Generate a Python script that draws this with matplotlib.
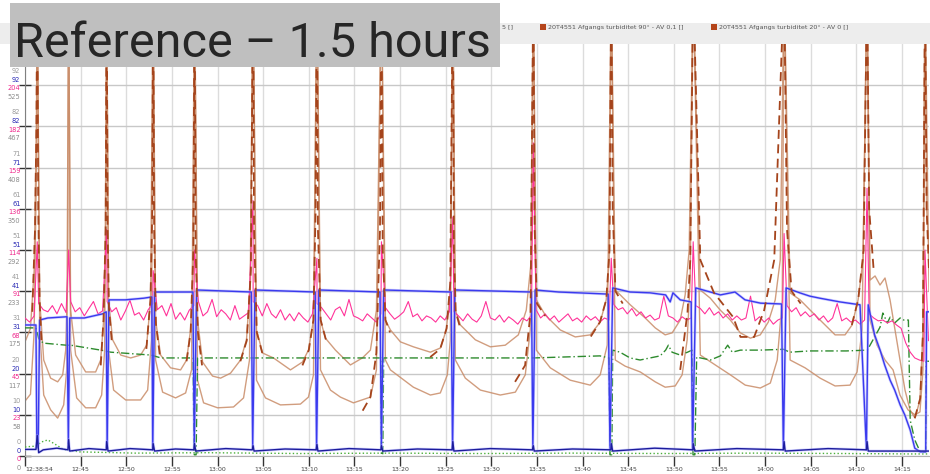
import numpy as np
import matplotlib
matplotlib.use("Agg")
import matplotlib.pyplot as plt
from matplotlib.patches import Rectangle
from matplotlib import transforms

nan = np.nan

# time axis: minutes after 12:38:54, values in % of the shared scale
tick_min = [0, 6.1, 11.1, 16.1, 21.1, 26.1, 31.1, 36.1, 41.1, 46.1, 51.1,
            56.1, 61.1, 66.1, 71.1, 76.1, 81.1, 86.1, 91.1, 96.1]
tick_lab = ["12:38:54", "12:45", "12:50", "12:55", "13:00", "13:05", "13:10",
            "13:15", "13:20", "13:25", "13:30", "13:35", "13:40", "13:45",
            "13:50", "13:55", "14:00", "14:05", "14:10", "14:15"]

grid_vals = [0, 10, 20, 30, 40, 50, 60, 70, 80, 90]
lab_gray1 = ["0", "10", "20", "31", "41", "51", "61", "71", "82", "92"]
lab_blue = ["0", "10", "20", "31", "41", "51", "61", "71", "82", "92"]
lab_pink = ["0", "23", "45", "68", "91", "114", "136", "159", "182", "204"]
lab_gray2 = ["0", "58", "117", "175", "233", "292", "350", "408", "467", "525"]

legend_names = ["20T4551 Afgangs turbiditet 90° - AV 0,1 []",
                "20T4551 Afgangs turbiditet 20° - AV 0 []"]
legend_cut = "5 []"

# upper turbidity curve (light brown)
tan_upper = [(0.1, 28.2), (0.6, 31.0), (1.0, 45), (1.25, 80), (1.34, 115),
             (1.61, 37.9), (2.05, 23.3), (2.81, 18.9), (3.58, 18.0), (4.13, 19.7), (4.46, 25.7), (4.68, 42.7), (4.78, 115),
             (5.0, 35.4), (5.55, 24.5), (6.65, 20.4), (7.74, 20.4), (8.29, 23.3), (8.62, 33.0), (8.84, 50.0), (8.95, 115),
             (9.16, 37.9), (9.6, 28.2), (10.49, 24.5), (11.58, 23.8), (12.67, 24.5), (13.33, 26.9), (13.76, 37.9), (14.04, 115),
             (14.31, 33.0), (14.86, 24.5), (15.95, 21.4), (17.05, 20.9), (17.71, 23.3), (18.14, 30.6), (18.47, 47.6), (18.58, 115),
             (18.91, 33.0), (19.46, 22.8), (20.55, 19.4), (21.43, 18.9), (22.52, 20.1), (23.62, 23.3), (24.27, 28.2), (24.71, 42.7), (24.99, 115),
             (25.37, 30.6), (26.03, 25.0), (27.23, 23.8), (29.09, 20.9), (30.40, 22.8), (31.06, 25.7), (31.61, 33.0), (31.99, 115),
             (32.38, 33.0), (32.92, 28.6), (34.02, 25.7), (35.66, 22.1), (36.97, 23.8), (37.85, 25.7), (38.51, 35.4), (39.06, 115),
             (39.49, 33.0), (40.04, 30.6), (41.14, 27.7), (42.56, 26.5), (44.42, 25.2), (45.51, 26.2), (46.17, 30.6), (46.61, 40.3), (46.88, 115),
             (47.16, 35.4), (47.71, 31.8), (49.35, 28.2), (50.99, 26.5), (52.63, 26.9), (54.06, 29.4), (54.93, 35.4), (55.48, 47.6), (55.70, 115),
             (56.03, 37.9), (57.01, 34.2), (58.65, 30.6), (60.30, 28.9), (61.94, 29.4), (63.03, 32.5), (63.69, 37.9), (64.02, 47.6), (64.24, 115),
             (64.68, 40.3), (66.32, 36.7), (67.96, 33.5), (69.06, 31.1), (70.15, 29.4), (70.92, 29.9), (71.80, 33.0), (72.34, 39.1), (72.78, 50.0), (73.22, 115),
             (74.00, 40.3), (75.10, 38.3), (76.19, 35.4), (77.29, 33.0), (78.38, 29.9), (79.48, 28.6), (80.57, 29.4), (81.45, 32.5), (82.21, 37.9), (82.76, 47.6), (83.18, 115),
             (83.84, 39.6), (84.93, 37.9), (86.58, 34.2), (87.67, 31.8), (88.77, 29.4), (89.86, 29.4), (90.63, 31.8), (91.29, 37.9), (91.83, 47.6), (92.27, 115),
             (92.60, 42.7), (93.15, 43.7), (93.69, 41.5), (94.24, 43.2), (94.79, 37.9), (95.34, 30.6), (95.88, 23.3), (96.43, 16.0), (96.98, 11.2),
             (97.53, 9.2), (98.07, 13.6), (98.40, 30.6), (98.62, 115), (98.8, 60), (99.06, 50)]

# lower turbidity curve (light brown)
tan_lower = [(0.1, 13.6), (0.6, 15), (1.0, 30), (1.25, 70), (1.34, 115),
             (1.61, 30.6), (2.05, 14.8), (2.81, 11.2), (3.58, 9.2), (4.24, 12.4), (4.57, 20.9), (4.78, 115),
             (5.0, 25.7), (5.66, 14.1), (6.65, 11.7), (7.74, 11.7), (8.40, 14.8), (8.73, 25.7), (8.95, 115),
             (9.16, 25.7), (9.71, 16.0), (11.03, 13.6), (12.67, 13.6), (13.44, 16.0), (13.87, 28.2), (14.04, 115),
             (14.31, 23.3), (15.08, 15.5), (16.50, 14.1), (17.60, 15.3), (18.25, 20.9), (18.58, 115),
             (18.91, 18.4), (19.57, 12.9), (21.10, 11.7), (22.85, 11.9), (23.95, 14.1), (24.60, 23.3), (24.99, 115),
             (25.37, 18.4), (26.35, 14.1), (27.99, 12.4), (30.18, 12.6), (31.06, 14.3), (31.61, 19.7), (31.99, 115),
             (32.38, 20.9), (33.47, 16.0), (34.56, 14.3), (35.99, 12.9), (37.85, 14.3), (38.51, 20.9), (39.06, 115),
             (39.49, 23.3), (40.04, 20.9), (42.56, 16.7), (44.42, 14.8), (45.51, 15.3), (46.28, 19.7), (46.61, 28.2), (46.88, 115),
             (47.16, 23.3), (48.25, 18.9), (49.90, 16.0), (52.08, 14.8), (53.73, 15.5), (54.82, 19.7), (55.37, 30.6), (55.70, 115),
             (56.03, 25.7), (57.56, 21.4), (59.75, 18.4), (61.94, 17.2), (63.03, 19.7), (63.80, 26.9), (64.24, 115),
             (64.68, 23.3), (65.77, 21.8), (67.42, 20.4), (69.06, 18.0), (70.15, 16.7), (71.25, 17.0), (72.01, 19.7), (72.56, 28.2), (72.89, 42.7), (73.22, 115),
             (74.00, 24.5), (75.64, 22.1), (77.29, 19.7), (78.93, 17.2), (80.57, 16.5), (81.67, 17.7), (82.43, 23.3), (82.98, 37.9), (83.18, 115),
             (83.84, 23.3), (85.48, 21.4), (87.13, 18.9), (88.77, 17.0), (90.41, 17.2), (91.18, 20.4), (91.72, 30.6), (92.27, 115),
             (92.60, 33.0), (93.37, 26.9), (94.24, 23.3), (95.12, 20.9), (95.88, 14.8), (96.76, 11.2), (97.53, 10.0), (98.07, 10.7),
             (98.40, 20.9), (98.62, 115), (99.06, 40)]

# dark brown dashed flanks around each flush
dark_brown = [(0.8, 35), (1.1, 55), (1.25, 80), (1.34, 115), (1.45, 60), (1.6, 38), (1.8, 28), (nan, nan),
              (8.3, 22), (8.6, 33), (8.84, 55), (8.95, 115), (9.05, 55), (9.2, 36), (9.5, 28), (nan, nan),
              (13.3, 26), (13.75, 38), (13.95, 60), (14.04, 115), (14.15, 55), (14.35, 32), (14.8, 24), (nan, nan),
              (17.7, 23), (18.15, 30), (18.45, 50), (18.58, 115), (18.7, 50), (18.95, 30), (19.4, 22), (nan, nan),
              (23.6, 23), (24.3, 28), (24.75, 45), (24.99, 115), (25.1, 55), (25.4, 30), (26.0, 25), (nan, nan),
              (30.4, 22), (31.1, 25.7), (31.6, 33), (31.85, 60), (31.99, 115), (32.1, 55), (32.4, 33), (33.0, 28), (nan, nan),
              (37.0, 11), (37.85, 14.3), (38.5, 25), (38.9, 55), (39.06, 115), (39.2, 50), (39.5, 33), (40.0, 30), (nan, nan),
              (44.4, 24), (45.5, 26), (46.2, 31), (46.6, 42), (46.88, 115), (47.0, 50), (47.2, 35), (47.7, 31), (nan, nan),
              (53.7, 18), (54.8, 22), (55.4, 35), (55.7, 115), (55.85, 55), (56.1, 37), (57.0, 34), (nan, nan),
              (62.0, 29), (63.0, 32.5), (63.7, 38), (64.05, 50), (64.24, 115), (64.4, 60), (64.7, 40), (65.5, 37), (nan, nan),
              (71.8, 20.9), (72.6, 35), (72.9, 47.6), (73.22, 115), (74.0, 47.6), (75.5, 39.6), (77.6, 33.7), (78.4, 28.9),
              (79.9, 28.9), (81.0, 35.4), (82.1, 47.6), (83.18, 115), (83.5, 55), (84.0, 40), (85.0, 37), (nan, nan),
              (90.6, 31.8), (91.3, 37.9), (91.9, 50), (92.27, 115), (92.5, 60), (93.0, 45), (nan, nan),
              (97.5, 9.2), (98.1, 14), (98.4, 30), (98.62, 115), (98.8, 60), (99.06, 45)]

# blue level line with drops at each flush
blue_main = [(0.0, 31.8), (1.2, 31.8), (1.3, 2.0), (1.45, 2.5), (1.6, 33.0), (2.5, 33.5), (4.6, 33.8), (4.75, 3.0),
             (4.9, 33.5), (6.5, 33.5), (8.5, 34.5), (8.9, 35.0), (9.0, 2.0), (9.2, 37.9), (11.0, 37.9), (13.0, 38.3),
             (13.9, 38.6), (14.0, 1.5), (14.2, 39.8), (18.4, 39.8), (18.55, 2.0), (18.8, 40.3), (24.8, 39.8), (24.95, 2.0),
             (25.2, 40.3), (31.8, 39.8), (31.95, 1.5), (32.2, 40.3), (38.9, 39.8), (39.05, 2.0), (39.3, 40.3), (46.7, 39.8),
             (46.85, 1.5), (47.1, 40.3), (55.5, 39.8), (55.65, 1.5), (55.9, 40.3), (58.5, 39.8), (63.9, 39.3), (64.1, 1.5),
             (64.4, 40.8), (66.3, 39.8), (68.5, 39.6), (70.2, 39.1), (70.7, 37.4), (71.0, 39.6), (71.8, 37.9), (73.0, 37.4),
             (73.15, 1.5), (73.5, 40.8), (75.1, 39.8), (76.2, 39.1), (77.8, 39.8), (78.9, 37.9), (80.6, 37.1), (82.9, 36.9),
             (83.1, 1.5), (83.4, 40.8), (84.9, 39.6), (86.0, 38.8), (87.1, 38.3), (89.3, 37.4), (91.5, 36.7), (92.2, 1.5),
             (92.4, 36.7), (93.1, 29.4), (93.7, 25.7), (94.2, 22.1), (94.8, 18.4), (95.3, 16.0), (95.9, 12.4), (96.4, 10.0),
             (97.0, 6.3), (97.5, 1.9), (98.1, 1.0), (98.7, 1.0), (98.8, 35.0), (99.06, 35.0)]

blue_bottom = [(0, 1.6), (1.2, 1.6), (1.34, 5), (1.5, 0.8), (2, 1.5), (3.5, 1.9), (4.7, 1.5), (4.78, 4), (4.9, 1.2),
               (7, 1.8), (8.9, 1.5), (8.95, 3.5), (9.1, 1.2), (11.5, 1.8), (14, 1.5), (14.04, 3), (14.2, 1.2), (16.5, 1.7),
               (18.5, 1.5), (18.58, 3), (18.7, 1.2), (22, 1.8), (24.9, 1.5), (24.99, 2.5), (25.1, 1.2), (28.5, 1.7),
               (31.9, 1.5), (31.99, 2.8), (32.1, 1.2), (35.5, 1.8), (39, 1.5), (39.06, 2.5), (39.2, 1.2), (43, 1.7),
               (46.8, 1.5), (46.88, 3.5), (47.0, 1.2), (51, 1.8), (55.6, 1.5), (55.7, 2.5), (55.8, 1.2), (60, 1.7),
               (64.2, 1.5), (64.24, 3), (64.4, 1.2), (69, 1.9), (73.2, 1.5), (73.22, 3), (73.4, 1.2), (78, 1.8),
               (83.1, 1.5), (83.18, 3.5), (83.3, 1.2), (88, 1.8), (92.2, 1.5), (92.27, 3.5), (92.4, 1.2), (98.6, 1.2),
               (99.06, 1.2)]

green_level = [(0, 31.1), (1.2, 31.1), (1.5, 28.5), (2.0, 27.4), (4.5, 26.9), (5.0, 26.9), (8.3, 25.7), (9.4, 25.2),
               (13.8, 24.5), (14.9, 23.8), (18.4, 23.8), (18.55, 0.3), (18.75, 0.3), (18.9, 23.8), (30, 23.8),
               (39.0, 23.8), (39.05, 0.3), (39.2, 0.3), (39.3, 23.8), (47, 23.8), (55.7, 23.8), (63.0, 24.3),
               (64.0, 23.8), (64.1, 0.3), (64.3, 0.3), (64.4, 25.7), (65.2, 25.2), (66.3, 23.8), (67.4, 23.3),
               (68.5, 23.8), (69.6, 24.3), (70.2, 25.7), (70.5, 26.9), (70.9, 25.2), (71.8, 24.5), (72.6, 25.2),
               (73.1, 25.7), (73.2, 0.3), (73.4, 0.3), (73.6, 24.0), (75.1, 23.3), (76.2, 24.3), (77.0, 26.9),
               (77.5, 25.2), (78.4, 25.7), (80.6, 25.7), (83.1, 25.9), (83.8, 25.2), (86, 25.5), (90, 25.5),
               (92.3, 25.7), (93.1, 28.9), (93.7, 31.3), (94.0, 34.7), (94.5, 32.3), (94.8, 33.7), (95.3, 32.3),
               (95.9, 33.5), (96.3, 33.0), (96.8, 33.0), (97.0, 8.7), (97.5, 3.9), (98.1, 1.0), (98.7, 1.0),
               (98.75, 23.0), (99.06, 23.0)]

green_bottom = [(0, 2.2), (1.2, 2.4), (1.8, 3.4), (2.5, 3.9), (3.2, 3.0), (4.2, 1.6), (6, 1.0), (12, 0.7), (20, 0.8),
                (30, 0.6), (40, 0.7), (50, 0.6), (60, 0.7), (70, 0.6), (80, 0.7), (90, 0.6), (97, 0.5), (99.06, 0.5)]

# pink: one reading every 30 s, plus the flush peaks
pink_step = 0.5
pink_vals = [33.5, 32.5, 34.0, 37.0, 35.5, 35.0, 36.5, 34.5, 37.0, 34.8, 37.5, 35.0, 36.0, 34.0, 35.8, 37.5, 34.5, 35.2,
             37.5, 35.0, 36.0, 33.0, 35.2, 37.8, 34.2, 34.8, 33.0, 35.5, 37.0, 35.5, 36.5, 34.0, 37.0, 33.2, 34.8, 33.0,
             35.4, 36.5, 37.5, 34.0, 35.0, 38.0, 33.8, 35.5, 34.5, 33.0, 36.5, 33.2, 34.0, 34.8, 37.5, 36.5, 34.0, 37.0,
             34.5, 33.5, 35.5, 33.0, 34.5, 32.8, 34.8, 33.5, 32.5, 34.5, 37.0, 36.0, 34.5, 33.0, 35.5, 36.2, 34.0, 38.0,
             34.0, 33.5, 32.8, 34.5, 33.5, 32.5, 34.5, 36.0, 34.5, 33.2, 34.0, 35.0, 37.5, 33.8, 34.5, 32.8, 34.0, 33.5,
             32.5, 34.0, 33.0, 35.0, 35.0, 34.0, 32.8, 34.5, 33.2, 32.5, 34.0, 37.5, 33.5, 33.0, 34.2, 32.5, 33.8, 33.0,
             32.0, 33.5, 32.8, 34.2, 35.5, 33.5, 34.5, 33.0, 34.0, 32.5, 33.5, 34.5, 32.8, 33.5, 32.5, 34.0, 33.0, 33.8,
             32.5, 33.5, 33.0, 36.8, 35.5, 36.0, 34.5, 35.8, 34.0, 35.0, 33.5, 34.2, 33.0, 33.5, 38.8, 34.0, 33.5, 32.5,
             33.8, 33.0, 33.5, 36.5, 35.8, 34.5, 36.0, 34.2, 35.0, 33.5, 34.5, 33.0, 34.0, 33.0, 33.5, 38.8, 32.8, 33.8,
             32.5, 33.5, 32.0, 33.0, 33.5, 36.5, 35.0, 36.0, 34.0, 35.0, 33.8, 34.5, 33.0, 34.0, 32.5, 33.5, 37.0, 32.8,
             33.5, 32.5, 33.0, 32.0, 33.0, 34.5, 33.5, 32.8, 33.0, 32.3, 32.8, 31.8, 31.0, 27.5, 25.2, 23.8, 23.3, 23.0,
             28.0]
pink_peaks = [(1.34, 52), (4.78, 50), (8.95, 55), (14.04, 45), (18.58, 50), (24.99, 62), (31.99, 48), (39.06, 52),
              (46.88, 58), (55.70, 76), (64.24, 48), (73.22, 52), (83.18, 54), (92.27, 65), (98.62, 50)]

W, H = 930, 474
fig = plt.figure(figsize=(W / 100, H / 100), dpi=100)
ax = fig.add_axes([25 / W, (H - 456) / H, (929 - 25) / W, (456 - 44) / H])


def xy(pairs):
    a = np.array(pairs, dtype=float)
    return a[:, 0], a[:, 1]


ax.plot(*xy(tan_lower), color="#c98c68", lw=1.0, alpha=0.85, zorder=2)
ax.plot(*xy(tan_upper), color="#c98c68", lw=1.0, alpha=0.85, zorder=2)
ax.plot(*xy(green_bottom), color="#4caf3c", lw=1.0, ls=":", zorder=3)
ax.plot(*xy(green_level), color="#2e8b2e", lw=1.0, ls=(0, (6, 2, 1, 2)), zorder=3)

pt = np.arange(len(pink_vals)) * pink_step
pk_t, pk_v = xy(pink_peaks)
all_t = np.concatenate([pt, pk_t])
all_v = np.concatenate([np.array(pink_vals), pk_v])
order = np.argsort(all_t, kind="stable")
ax.plot(all_t[order], all_v[order], color="#ff3399", lw=0.8, zorder=3)

bt, bv = xy(blue_main)
ax.plot(bt, bv, color="#a8a8ff", lw=2.0, alpha=0.55, zorder=4)
ax.plot(bt, bv, color="#3a3aee", lw=1.0, zorder=4)
bt2, bv2 = xy(blue_bottom)
ax.plot(bt2, bv2, color="#a8a8ff", lw=2.0, alpha=0.5, zorder=4)
ax.plot(bt2, bv2, color="#1c1c9c", lw=1.0, zorder=4)

ax.plot(*xy(dark_brown), color="#a5441c", lw=1.3, dashes=(5, 3), zorder=5)

ax.set_xlim(0, 99.06)
ax.set_ylim(0, 100)
ax.set_xticks(tick_min)
ax.set_xticklabels(tick_lab)
ax.get_xticklabels()[0].set_ha("left")
ax.set_yticks(grid_vals)
ax.set_yticklabels([])
ax.tick_params(axis="x", direction="out", length=7, width=1, color="#333333",
               labelsize=4.5, labelcolor="#444444", pad=1)
ax.tick_params(axis="y", direction="inout", length=9, width=1, color="#333333")
ax.grid(axis="y", color="#c8c8c8", lw=1)
ax.grid(axis="x", color="#dcdcdc", lw=1)
ax.set_axisbelow(True)
for s in ["top", "right"]:
    ax.spines[s].set_visible(False)
ax.spines["left"].set_color("#808080")
ax.spines["bottom"].set_color("#b0b0b0")

# stacked scale labels on the left
trans = transforms.blended_transform_factory(ax.transAxes, ax.transData)
offs = [(lab_gray1, "#9a9a9a", 3.4), (lab_blue, "#2828b4", 1.2),
        (lab_pink, "#f0288c", -0.8), (lab_gray2, "#8c8c8c", -2.9)]
for labs, col, dy in offs:
    for g, s in zip(grid_vals, labs):
        ax.text(-0.005, g + dy, s, transform=trans, ha="right", va="center",
                fontsize=4.8, color=col, clip_on=False)

# header band with legend
fig.add_artist(Rectangle((0, (H - 44) / H), 1, 21 / H, transform=fig.transFigure,
                         facecolor="#ededed", edgecolor="none", zorder=1))
fig.text(502 / W, 1 - 27 / H, legend_cut, fontsize=4.6,
         color="#555555", ha="left", va="center", zorder=2)
for x0, name in zip([540, 711], legend_names):
    fig.add_artist(Rectangle((x0 / W, 1 - 30 / H), 6 / W, 6 / H, transform=fig.transFigure,
                             facecolor="#b5451b", edgecolor="none", zorder=2))
    fig.text((x0 + 8) / W, 1 - 27 / H, name, fontsize=4.6, color="#555555",
             ha="left", va="center", zorder=2)

# title box
fig.add_artist(Rectangle((10 / W, 1 - 67 / H), 490 / W, 64 / H, transform=fig.transFigure,
                         facecolor="#bfbfbf", edgecolor="none", zorder=5))
fig.text(14 / W, 1 - 57 / H, "Reference – 1.5 hours", fontsize=35,
         family=["Roboto", "DejaVu Sans"],
         color="#262626", ha="left", va="baseline", zorder=6)

fig.savefig("out.png", dpi=100)
